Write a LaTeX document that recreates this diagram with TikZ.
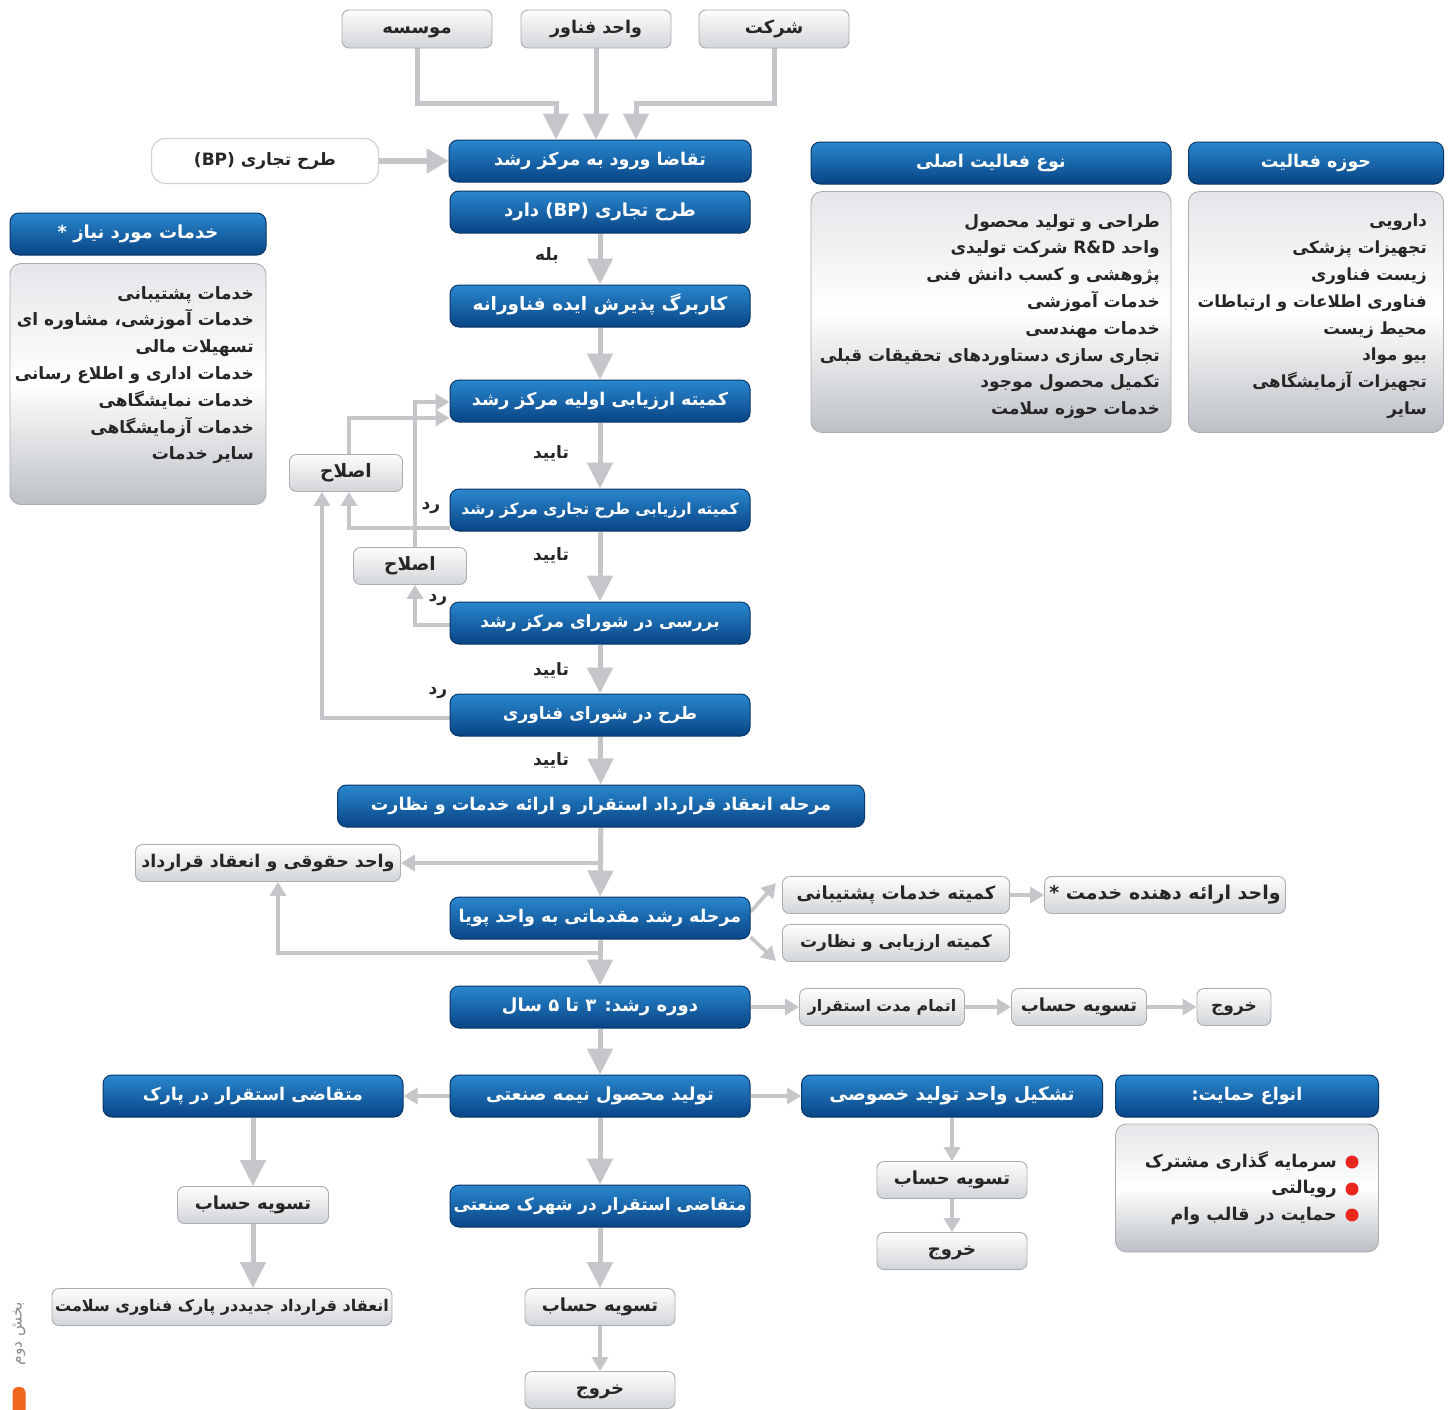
\documentclass[tikz,border=0pt]{standalone}
\usepackage{fontspec}
\newfontfamily\fa[Script=Arabic]{DejaVu Sans}
\TeXXeTstate=1
\usetikzlibrary{arrows.meta,calc}
\newcommand\fatext[1]{\beginR #1\endR}
\newcommand\fasz[1]{\fa\bfseries\fontsize{#1}{19}\selectfont}
\definecolor{bluetop}{RGB}{42,135,206}
\definecolor{bluebot}{RGB}{8,68,133}
\definecolor{blueedge}{RGB}{10,54,104}
\definecolor{graytop}{RGB}{253,253,253}
\definecolor{graybot}{RGB}{210,213,217}
\definecolor{grayedge}{RGB}{170,173,178}
\definecolor{listtop}{RGB}{228,230,233}
\definecolor{listbot}{RGB}{188,192,197}
\definecolor{arrowgray}{RGB}{196,198,201}
\definecolor{txt}{RGB}{38,38,38}
\definecolor{dotred}{RGB}{232,40,28}
\definecolor{barorange}{RGB}{240,102,30}
\pgfdeclarelayer{bg}
\pgfdeclarelayer{paper}
\pgfsetlayers{paper,bg,main}
\begin{document}
\begin{tikzpicture}[x=1pt,y=-1pt,
  bluebox/.style={rounded corners=9pt, top color=bluetop, bottom color=bluebot, draw=blueedge, line width=1pt,
    text=white, font=\fasz{17.5}, minimum width=300pt, minimum height=42pt, inner sep=0pt,
    text height=12pt, text depth=4pt},
  graybox/.style={rounded corners=7pt, top color=graytop, bottom color=graybot, draw=grayedge, line width=0.9pt,
    text=txt, font=\fasz{17.5}, minimum width=150pt, minimum height=37pt, inner sep=0pt,
    text height=12pt, text depth=4pt},
  whitebox/.style={rounded corners=14pt, fill=white, draw=black!17, line width=1.2pt,
    text=txt, font=\fasz{17}, inner sep=0pt, text height=12pt, text depth=4pt},
  listbox/.style={rounded corners=11pt, top color=listtop, bottom color=listbot, middle color=white, draw=grayedge, line width=0.9pt, inner sep=0pt},
  listtext/.style={text=txt, font=\fa\bfseries\fontsize{17}{26.8}\selectfont, align=right, inner sep=0pt},
  lbl/.style={text=txt, font=\fasz{17}, inner sep=0pt},
  dot/.style={circle, fill=dotred, minimum size=13pt, inner sep=0pt},
  arr/.style={draw=arrowgray, line width=5pt, -{Triangle[length=26pt,width=25pt]}},
  arrm/.style={draw=arrowgray, line width=6pt, -{Triangle[length=22pt,width=24pt]}},
  arrs/.style={draw=arrowgray, line width=3.5pt, -{Triangle[length=14pt,width=16pt]}}
]
\begin{pgfonlayer}{paper}
\fill[white] (0,0) rectangle (1454,1409);
\end{pgfonlayer}
\useasboundingbox (0,0) rectangle (1454,1409);

% top sources
\node[graybox, minimum height=38pt, font=\fasz{18}] (mos) at (417,29) {\fatext{موسسه}};
\node[graybox, minimum height=38pt] (fan) at (596,29) {\fatext{واحد فناور}};
\node[graybox, minimum height=38pt, font=\fasz{18}] (sher) at (774,29) {\fatext{شرکت}};

% central column
\node[bluebox, minimum width=302pt] (req) at (600,161) {\fatext{تقاضا ورود به مرکز رشد}};
\node[whitebox, minimum width=227pt, minimum height=45pt] (bpw) at (265,161) {\fatext{طرح تجاری \beginL(BP)\endL}};
\node[bluebox, font=\fasz{18}] (bp) at (600,212) {\fatext{طرح تجاری \beginL(BP)\endL{} دارد}};
\node[bluebox, font=\fasz{18.5}] (form) at (600,306) {\fatext{کاربرگ پذیرش ایده فناورانه}};
\node[bluebox] (ev1) at (600,401) {\fatext{کمیته ارزیابی اولیه مرکز رشد}};
\node[bluebox, font=\fasz{15.5}] (bpe) at (600,510) {\fatext{کمیته ارزیابی طرح تجاری مرکز رشد}};
\node[bluebox, font=\fasz{17}] (cncl) at (600,623) {\fatext{بررسی در شورای مرکز رشد}};
\node[bluebox, font=\fasz{17}] (tech) at (600,715) {\fatext{طرح در شورای فناوری}};
\node[bluebox, minimum width=527pt] (contr) at (601,806) {\fatext{مرحله انعقاد قرارداد استقرار و ارائه خدمات و نظارت}};
\node[bluebox] (grow) at (600,918) {\fatext{مرحله رشد مقدماتی به واحد پویا}};
\node[bluebox, font=\fasz{18}] (dur) at (600,1007) {\fatext{دوره رشد: ۳ تا ۵ سال}};
\node[bluebox, font=\fasz{18}] (prod) at (600,1096) {\fatext{تولید محصول نیمه صنعتی}};
\node[bluebox, font=\fasz{17}] (ind) at (600,1206) {\fatext{متقاضی استقرار در شهرک صنعتی}};
\node[graybox, font=\fasz{18}] (set4) at (600,1307) {\fatext{تسویه حساب}};
\node[graybox, font=\fasz{18}] (ex4) at (600,1390) {\fatext{خروج}};

% labels
\node[lbl] (yes) at (547,256) {\fatext{بله}};
\node[lbl] (ok1) at (551,453) {\fatext{تایید}};
\node[lbl] (ok2) at (551,555) {\fatext{تایید}};
\node[lbl] (ok3) at (551,670) {\fatext{تایید}};
\node[lbl] (ok4) at (551,760) {\fatext{تایید}};
\node[lbl] (rej1) at (431,508) {\fatext{رد}};
\node[lbl] (rej2) at (438,600) {\fatext{رد}};
\node[lbl] (rej3) at (438,693) {\fatext{رد}};

% correction boxes
\node[graybox, minimum width=113pt, font=\fasz{18.5}] (fix1) at (346,473) {\fatext{اصلاح}};
\node[graybox, minimum width=113pt, font=\fasz{18.5}] (fix2) at (410,566) {\fatext{اصلاح}};

% left services
\node[bluebox, minimum width=256pt, font=\fasz{18}] (srvh) at (138,234) {\fatext{خدمات مورد نیاز *}};
\node[listbox, minimum width=256pt, minimum height=241pt] (srvb) at (138,384) {};
\node[listtext, anchor=north east] (srvt) at (254,286) {\fatext{خدمات پشتیبانی}\\
  \fatext{خدمات آموزشی، مشاوره ای}\\
  \fatext{تسهیلات مالی}\\
  \fatext{خدمات اداری و اطلاع رسانی}\\
  \fatext{خدمات نمایشگاهی}\\
  \fatext{خدمات آزمایشگاهی}\\
  \fatext{سایر خدمات}};

% right top lists
\node[bluebox, minimum width=360pt] (acth) at (991,163) {\fatext{نوع فعالیت اصلی}};
\node[listbox, minimum width=360pt, minimum height=241pt] (actb) at (991,312) {};
\node[listtext, anchor=north east] (actt) at (1160,214) {\fatext{طراحی و تولید محصول}\\
  \fatext{واحد \beginL R\&D\endL{} شرکت تولیدی}\\
  \fatext{پژوهشی و کسب دانش فنی}\\
  \fatext{خدمات آموزشی}\\
  \fatext{خدمات مهندسی}\\
  \fatext{تجاری سازی دستاوردهای تحقیقات قبلی}\\
  \fatext{تکمیل محصول موجود}\\
  \fatext{خدمات حوزه سلامت}};
\node[bluebox, minimum width=255pt] (fldh) at (1316,163) {\fatext{حوزه فعالیت}};
\node[listbox, minimum width=255pt, minimum height=241pt] (fldb) at (1316,312) {};
\node[listtext, anchor=north east, font=\fa\bfseries\fontsize{16.7}{26.8}\selectfont] (fldt) at (1427,214) {\fatext{دارویی}\\
  \fatext{تجهیزات پزشکی}\\
  \fatext{زیست فناوری}\\
  \fatext{فناوری اطلاعات و ارتباطات}\\
  \fatext{محیط زیست}\\
  \fatext{بیو مواد}\\
  \fatext{تجهیزات آزمایشگاهی}\\
  \fatext{سایر}};

% middle branches
\node[graybox, minimum width=265pt] (legal) at (268,863) {\fatext{واحد حقوقی و انعقاد قرارداد}};
\node[graybox, minimum width=227pt, font=\fasz{18}] (sup) at (896,895) {\fatext{کمیته خدمات پشتیبانی}};
\node[graybox, minimum width=227pt, font=\fasz{17}] (evn) at (896,943) {\fatext{کمیته ارزیابی و نظارت}};
\node[graybox, minimum width=241pt, font=\fasz{19}] (prov) at (1165,895) {\fatext{واحد ارائه دهنده خدمت *}};
\node[graybox, minimum width=165pt, font=\fasz{15.8}] (end1) at (882,1007) {\fatext{اتمام مدت استقرار}};
\node[graybox, minimum width=135pt, font=\fasz{18}] (set1) at (1079,1007) {\fatext{تسویه حساب}};
\node[graybox, minimum width=74pt, font=\fasz{17}] (ex1) at (1234,1007) {\fatext{خروج}};

% bottom
\node[bluebox] (park) at (253,1096) {\fatext{متقاضی استقرار در پارک}};
\node[bluebox, minimum width=301pt, font=\fasz{18.5}] (priv) at (952,1096) {\fatext{تشکیل واحد تولید خصوصی}};
\node[bluebox, minimum width=263pt] (suph) at (1247,1096) {\fatext{انواع حمایت:}};
\node[listbox, minimum width=263pt, minimum height=128pt] (supb) at (1247,1188) {};
\node[dot] (d1) at (1352,1162) {};
\node[dot] (d2) at (1352,1189) {};
\node[dot] (d3) at (1352,1215) {};
\node[listtext, anchor=north east, font=\fa\bfseries\fontsize{17.5}{26.5}\selectfont] (supt) at (1337,1151) {\fatext{سرمایه گذاری مشترک}\\
  \fatext{رویالتی}\\
  \fatext{حمایت در قالب وام}};
\node[graybox, font=\fasz{18}] (set3) at (952,1180) {\fatext{تسویه حساب}};
\node[graybox, font=\fasz{18}] (ex3) at (952,1251) {\fatext{خروج}};
\node[graybox, minimum width=151pt, font=\fasz{18}] (set2) at (253,1205) {\fatext{تسویه حساب}};
\node[graybox, minimum width=340pt, font=\fasz{16}] (newc) at (222,1307) {\fatext{انعقاد قرارداد جدیددر پارک فناوری سلامت}};

% section marker
\node[rotate=90, text=black!45, font=\fa\fontsize{15.5}{16}\selectfont, inner sep=0pt] (sec) at (19,1334) {\fatext{بخش دوم}};
\node[fill=barorange, rounded corners=5pt, minimum width=13pt, minimum height=30pt, inner sep=0pt] (bar) at (19,1402) {};

% connectors
\begin{pgfonlayer}{bg}
\coordinate (m1) at (556,103);
\coordinate (m2) at (636,103);
\draw[arr] (mos.south) |- (m1) -- (m1 |- req.north);
\draw[arr] (fan.south) -- (fan.south |- req.north);
\draw[arr] (sher.south) |- (m2) -- (m2 |- req.north);
\draw[arrm] (bpw) -- (req);

\draw[arr] (bp) -- (form);
\draw[arr] (form) -- (ev1);
\draw[arr] (ev1) -- (bpe);
\draw[arr] (bpe) -- (cncl);
\draw[arr] (cncl) -- (tech);
\draw[arr] (tech) -- (contr);
\draw[arr] (contr) -- (grow);
\draw[arr] (grow) -- (dur);
\draw[arr] (dur) -- (prod);
\draw[arr] (prod) -- (ind);
\draw[arr] (ind) -- (set4);
\draw[arrs] (set4) -- (ex4);

\draw[arrs] ([yshift=-18pt]bpe.west) -| ([xshift=3pt]fix1.south);
\draw[arrs] ([yshift=-3pt]tech.west) -| ([xshift=-24pt]fix1.south);
\draw[arrs] ([yshift=-2pt]cncl.west) -| ([xshift=5pt]fix2.south);
\draw[arrs] ([xshift=3pt]fix1.north) |- ([yshift=-17pt]ev1.west);
\draw[arrs] ([xshift=5pt]fix2.north) |- ([yshift=-1pt]ev1.west);

\coordinate (b1) at (600,863);
\coordinate (b2) at (600,953);
\draw[arrs] (b1) -- (legal.east);
\draw[arrs] (b2) -| ([xshift=10pt]legal.south);
\draw[arrs] ([yshift=6pt]grow.east) -- ([xshift=-6pt,yshift=12pt]sup.west);
\draw[arrs] ([yshift=-19pt]grow.east) -- ([xshift=-6pt,yshift=-18pt]evn.west);
\draw[arrs] (sup) -- (prov);
\draw[arrs] (dur) -- (end1);
\draw[arrs] (end1) -- (set1);
\draw[arrs] (set1) -- (ex1);

\draw[arrs] (prod) -- (park);
\draw[arrs] (prod) -- (priv);
\draw[arrs] (priv) -- (set3);
\draw[arrs] (set3) -- (ex3);
\draw[arr] (park) -- (set2);
\draw[arr] (set2.south) -- (set2.south |- newc.north);
\end{pgfonlayer}
\end{tikzpicture}
\end{document}
